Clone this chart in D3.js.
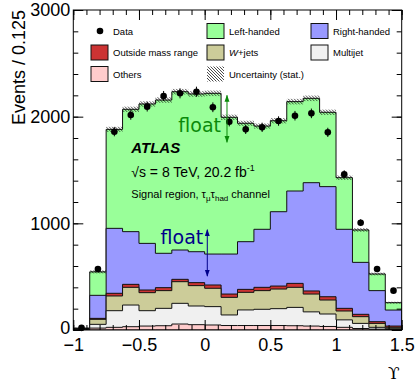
<!DOCTYPE html>
<html>
<head>
<meta charset="utf-8">
<script src="https://cdn.jsdelivr.net/npm/d3@7"></script>
<style>
  body { margin: 0; background: #fff; }
  svg { display: block; font-family: 'Liberation Sans', Arial, Helvetica, sans-serif; }
  .axis .domain { display: none; }
  .axis line { stroke: #000; stroke-width: 1; }
  .axis text { font-size: 18px; fill: #000; }
</style>
</head>
<body>
<svg class="upsilon-chart"></svg>
<script>
// bin lower edges, width 0.125
const binStarts = [-1, -0.875, -0.75, -0.625, -0.5, -0.375, -0.25, -0.125, 0, 0.125,
  0.25, 0.375, 0.5, 0.625, 0.75, 0.875, 1, 1.125, 1.25, 1.375];
const binWidth = 0.125;

// stacked components, bottom first
const others = [2, 18, 25, 31, 37, 40, 56, 50, 47, 42, 42, 42, 42, 40, 37, 33, 25, 14, 8, 5];
const multijet = [2, 35, 156, 203, 144, 163, 194, 175, 172, 99, 146, 152, 158, 172, 133, 117, 70, 48, 17, 7];
const wJets = [4, 47, 138, 166, 169, 166, 203, 191, 172, 165, 165, 175, 184, 188, 167, 131, 83, 63, 37, 13];
const outsideMass = [2, 9, 25, 28, 25, 28, 22, 28, 31, 31, 28, 31, 28, 37, 29, 31, 25, 22, 16, 12];
const rightHanded = [4, 216, 609, 494, 437, 322, 275, 290, 290, 375, 447, 544, 697, 866, 1015, 1032, 741, 487, 291, 150];
const leftHanded = [4, 220, 928, 1147, 1307, 1437, 1484, 1479, 1507, 1282, 1110, 968, 853, 838, 791, 697, 484, 304, 156, 69];

const dataEvents = [20, 572, 1859, 2016, 2094, 2194, 2219, 2234, 2088, 1953, 1881, 1900, 1959, 2009, 2031, 1853, 1459, 1006, 572, 369];
const statUnc = [4, 14, 24, 25, 25, 26, 26, 26, 26, 25, 24, 24, 25, 26, 26, 25, 21, 17, 13, 9];

const xTicksMajor = [-1, -0.5, 0, 0.5, 1, 1.5];
const yTicksMajor = [0, 1000, 2000, 3000];

const seriesKeys = ['others', 'multijet', 'wJets', 'outsideMass', 'rightHanded', 'leftHanded'];
const seriesColors = {
  others: '#ffcccc',
  multijet: '#f0f0f0',
  wJets: '#cccc99',
  outsideMass: '#cc3333',
  rightHanded: '#9999ff',
  leftHanded: '#99ff99'
};

const w = 415;
const h = 384;
const margin = { top: 10, right: 13.3, bottom: 54, left: 73.3 };
const width = w - margin.left - margin.right;
const height = h - margin.top - margin.bottom;

const svg = d3.select('.upsilon-chart').attr('width', w).attr('height', h);
const scales = {};

function setupScales() {
  scales.x = d3.scaleLinear().domain([-1, 1.5]).range([0, width]);
  scales.y = d3.scaleLinear().domain([0, 3000]).range([height, 0]);
}

function setupDefs() {
  const defs = svg.append('defs');
  const hatch = defs.append('pattern')
    .attr('id', 'hatch')
    .attr('patternUnits', 'userSpaceOnUse')
    .attr('width', 3)
    .attr('height', 3);
  hatch.append('path')
    .attr('d', 'M-1,-1 L4,4 M-1,2 L1,4 M2,-1 L4,1')
    .attr('stroke', '#000')
    .attr('stroke-width', 0.7);

  defs.append('clipPath').attr('id', 'plot-clip')
    .append('rect').attr('width', width).attr('height', height);

  [['arrow-green', '#0a8a0a'], ['arrow-blue', '#00008b']].forEach(([id, col]) => {
    defs.append('marker')
      .attr('id', id)
      .attr('viewBox', '0 0 10 10')
      .attr('refX', 9).attr('refY', 5)
      .attr('markerWidth', 7).attr('markerHeight', 7)
      .attr('markerUnits', 'userSpaceOnUse')
      .attr('orient', 'auto-start-reverse')
      .append('path')
      .attr('d', 'M0,1.5 L10,5 L0,8.5 Z')
      .attr('fill', col);
  });
}

function drawStack(g) {
  const { x, y } = scales;
  const rows = binStarts.map((b, i) => ({
    others: others[i],
    multijet: multijet[i],
    wJets: wJets[i],
    outsideMass: outsideMass[i],
    rightHanded: rightHanded[i],
    leftHanded: leftHanded[i]
  }));
  const stacked = d3.stack().keys(seriesKeys)(rows);

  const area = d3.area()
    .curve(d3.curveStepAfter)
    .x(d => x(d.x))
    .y0(y(0))
    .y1(d => y(d.v));

  const layer = g.append('g').attr('clip-path', 'url(#plot-clip)');

  // draw the cumulative tops from the outermost down
  stacked.slice().reverse().forEach(s => {
    const pts = s.map((d, i) => ({ x: binStarts[i], v: d[1] }));
    pts.push({ x: binStarts[binStarts.length - 1] + binWidth, v: s[s.length - 1][1] });
    layer.append('path')
      .attr('d', area(pts))
      .attr('fill', seriesColors[s.key])
      .attr('stroke', '#111')
      .attr('stroke-width', 1);
  });

  // stat. uncertainty band on the total
  const total = stacked[stacked.length - 1].map(d => d[1]);
  layer.selectAll('.unc')
    .data(binStarts)
    .enter()
    .append('rect')
    .attr('class', 'unc')
    .attr('x', d => x(d))
    .attr('width', d => x(d + binWidth) - x(d))
    .attr('y', (d, i) => y(total[i] + statUnc[i]))
    .attr('height', (d, i) => y(total[i] - statUnc[i]) - y(total[i] + statUnc[i]))
    .attr('fill', 'url(#hatch)');
}

function drawData(g) {
  const { x, y } = scales;
  const pts = g.append('g');
  pts.selectAll('.err')
    .data(dataEvents)
    .enter()
    .append('line')
    .attr('class', 'err')
    .attr('x1', (d, i) => x(binStarts[i] + binWidth / 2))
    .attr('x2', (d, i) => x(binStarts[i] + binWidth / 2))
    .attr('y1', d => y(d + Math.sqrt(d)))
    .attr('y2', d => y(d - Math.sqrt(d)))
    .attr('stroke', '#000')
    .attr('stroke-width', 1);
  pts.selectAll('.pt')
    .data(dataEvents)
    .enter()
    .append('circle')
    .attr('class', 'pt')
    .attr('cx', (d, i) => x(binStarts[i] + binWidth / 2))
    .attr('cy', d => y(d))
    .attr('r', 3.3)
    .attr('fill', '#000');
}

function drawAxes(g) {
  const { x, y } = scales;
  const xMinor = d3.range(-10, 16).map(d => d / 10);
  const yMinor = d3.range(0, 3001, 200);
  const fmtX = d => (d === 0 ? '0' : d3.format('~g')(d));

  g.append('g').attr('class', 'axis').attr('transform', `translate(0,${height})`)
    .call(d3.axisBottom(x).tickValues(xMinor).tickSize(-5).tickFormat(''));
  g.append('g').attr('class', 'axis').attr('transform', `translate(0,${height})`)
    .call(d3.axisBottom(x).tickValues(xTicksMajor).tickSize(-10).tickPadding(8).tickFormat(fmtX));
  g.append('g').attr('class', 'axis')
    .call(d3.axisTop(x).tickValues(xMinor).tickSize(-5).tickFormat(''));
  g.append('g').attr('class', 'axis')
    .call(d3.axisTop(x).tickValues(xTicksMajor).tickSize(-10).tickFormat(''));

  g.append('g').attr('class', 'axis')
    .call(d3.axisLeft(y).tickValues(yMinor).tickSize(-5).tickFormat(''));
  const yAxis = g.append('g').attr('class', 'axis')
    .call(d3.axisLeft(y).tickValues(yTicksMajor).tickSize(-10).tickPadding(3).tickFormat(d3.format('d')));
  // lift the zero a touch so it clears the -1 below it
  yAxis.selectAll('.tick text').filter(d => d === 0).attr('dy', '0.2em');
  g.append('g').attr('class', 'axis').attr('transform', `translate(${width},0)`)
    .call(d3.axisRight(y).tickValues(yMinor).tickSize(-5).tickFormat(''));
  g.append('g').attr('class', 'axis').attr('transform', `translate(${width},0)`)
    .call(d3.axisRight(y).tickValues(yTicksMajor).tickSize(-10).tickFormat(''));

  g.append('rect')
    .attr('width', width)
    .attr('height', height)
    .attr('fill', 'none')
    .attr('stroke', '#000')
    .attr('stroke-width', 1);

  svg.append('text')
    .attr('transform', `translate(25,${margin.top}) rotate(-90)`)
    .attr('text-anchor', 'end')
    .attr('font-size', 18)
    .text('Events / 0.125');

  svg.append('text')
    .attr('x', margin.left + width - 2)
    .attr('y', 379)
    .attr('text-anchor', 'end')
    .attr('font-family', "'DejaVu Serif', 'Liberation Serif', serif")
    .attr('font-size', 17)
    .text('ϒ');
}

function drawLegend() {
  const rowY = [31, 52.5, 74];
  const items = [
    { label: 'Data', col: 0, row: 0, type: 'dot' },
    { label: 'Left-handed', col: 1, row: 0, key: 'leftHanded' },
    { label: 'Right-handed', col: 2, row: 0, key: 'rightHanded' },
    { label: 'Outside mass range', col: 0, row: 1, key: 'outsideMass' },
    { label: '+jets', col: 1, row: 1, key: 'wJets', italic: 'W' },
    { label: 'Multijet', col: 2, row: 1, key: 'multijet' },
    { label: 'Others', col: 0, row: 2, key: 'others' },
    { label: 'Uncertainty (stat.)', col: 1, row: 2, type: 'hatch' }
  ];
  const colX = [91, 207, 311];
  const lg = svg.append('g').attr('class', 'legend');
  items.forEach(it => {
    const bx = colX[it.col];
    const cy = rowY[it.row];
    if (it.type === 'dot') {
      lg.append('circle').attr('cx', bx + 9).attr('cy', cy).attr('r', 3.3).attr('fill', '#000');
    } else if (it.type === 'hatch') {
      lg.append('rect').attr('x', bx).attr('y', cy - 7.5).attr('width', 17).attr('height', 15)
        .attr('fill', 'url(#hatch)');
    } else {
      lg.append('rect').attr('x', bx).attr('y', cy - 7.5).attr('width', 17).attr('height', 15)
        .attr('fill', seriesColors[it.key]).attr('stroke', '#111').attr('stroke-width', 1);
    }
    const t = lg.append('text').attr('x', bx + 22).attr('y', cy + 3.5).attr('font-size', 9.5);
    if (it.italic) t.append('tspan').attr('font-style', 'italic').text(it.italic);
    t.append('tspan').text(it.label);
  });
}

function drawLabels(g) {
  const { x, y } = scales;
  g.append('text')
    .attr('x', 58).attr('y', 143)
    .attr('font-size', 15).attr('font-weight', 'bold').attr('font-style', 'italic')
    .text('ATLAS');

  const lumi = g.append('text').attr('x', 58).attr('y', 167).attr('font-size', 14);
  lumi.append('tspan').text('√s = 8 TeV, 20.2 fb');
  lumi.append('tspan').attr('dy', -6).attr('font-size', 9).text('-1');

  const sr = g.append('text').attr('x', 58).attr('y', 188).attr('font-size', 11);
  sr.append('tspan').text('Signal region, τ');
  sr.append('tspan').attr('dy', 3).attr('font-size', 8).text('μ');
  sr.append('tspan').attr('dy', -3).text('τ');
  sr.append('tspan').attr('dy', 3).attr('font-size', 8).text('had');
  sr.append('tspan').attr('dy', -3).text(' channel');

  g.append('text')
    .attr('x', x(0.17) - 6).attr('y', y(1855))
    .attr('text-anchor', 'end')
    .attr('font-family', "'DejaVu Sans', sans-serif")
    .attr('font-size', 19).attr('fill', '#0a8a0a')
    .text('float');
  g.append('line')
    .attr('x1', x(0.17)).attr('x2', x(0.17))
    .attr('y1', y(2000)).attr('y2', y(2200))
    .attr('stroke', '#0a8a0a').attr('stroke-width', 1)
    .attr('marker-end', 'url(#arrow-green)');
  g.append('line')
    .attr('x1', x(0.17)).attr('x2', x(0.17))
    .attr('y1', y(2000)).attr('y2', y(1760))
    .attr('stroke', '#0a8a0a').attr('stroke-width', 1)
    .attr('marker-end', 'url(#arrow-green)');

  g.append('text')
    .attr('x', x(0.02) - 4).attr('y', y(810))
    .attr('text-anchor', 'end')
    .attr('font-family', "'DejaVu Sans', sans-serif")
    .attr('font-size', 19).attr('fill', '#00008b')
    .text('float');
  g.append('line')
    .attr('x1', x(0.02)).attr('x2', x(0.02))
    .attr('y1', y(720)).attr('y2', y(940))
    .attr('stroke', '#00008b').attr('stroke-width', 1)
    .attr('marker-end', 'url(#arrow-blue)');
  g.append('line')
    .attr('x1', x(0.02)).attr('x2', x(0.02))
    .attr('y1', y(720)).attr('y2', y(505))
    .attr('stroke', '#00008b').attr('stroke-width', 1)
    .attr('marker-end', 'url(#arrow-blue)');
}

setupScales();
setupDefs();
const g = svg.append('g').attr('transform', `translate(${margin.left},${margin.top})`);
drawStack(g);
drawData(g);
drawAxes(g);
drawLabels(g);
drawLegend();
</script>
</body>
</html>
